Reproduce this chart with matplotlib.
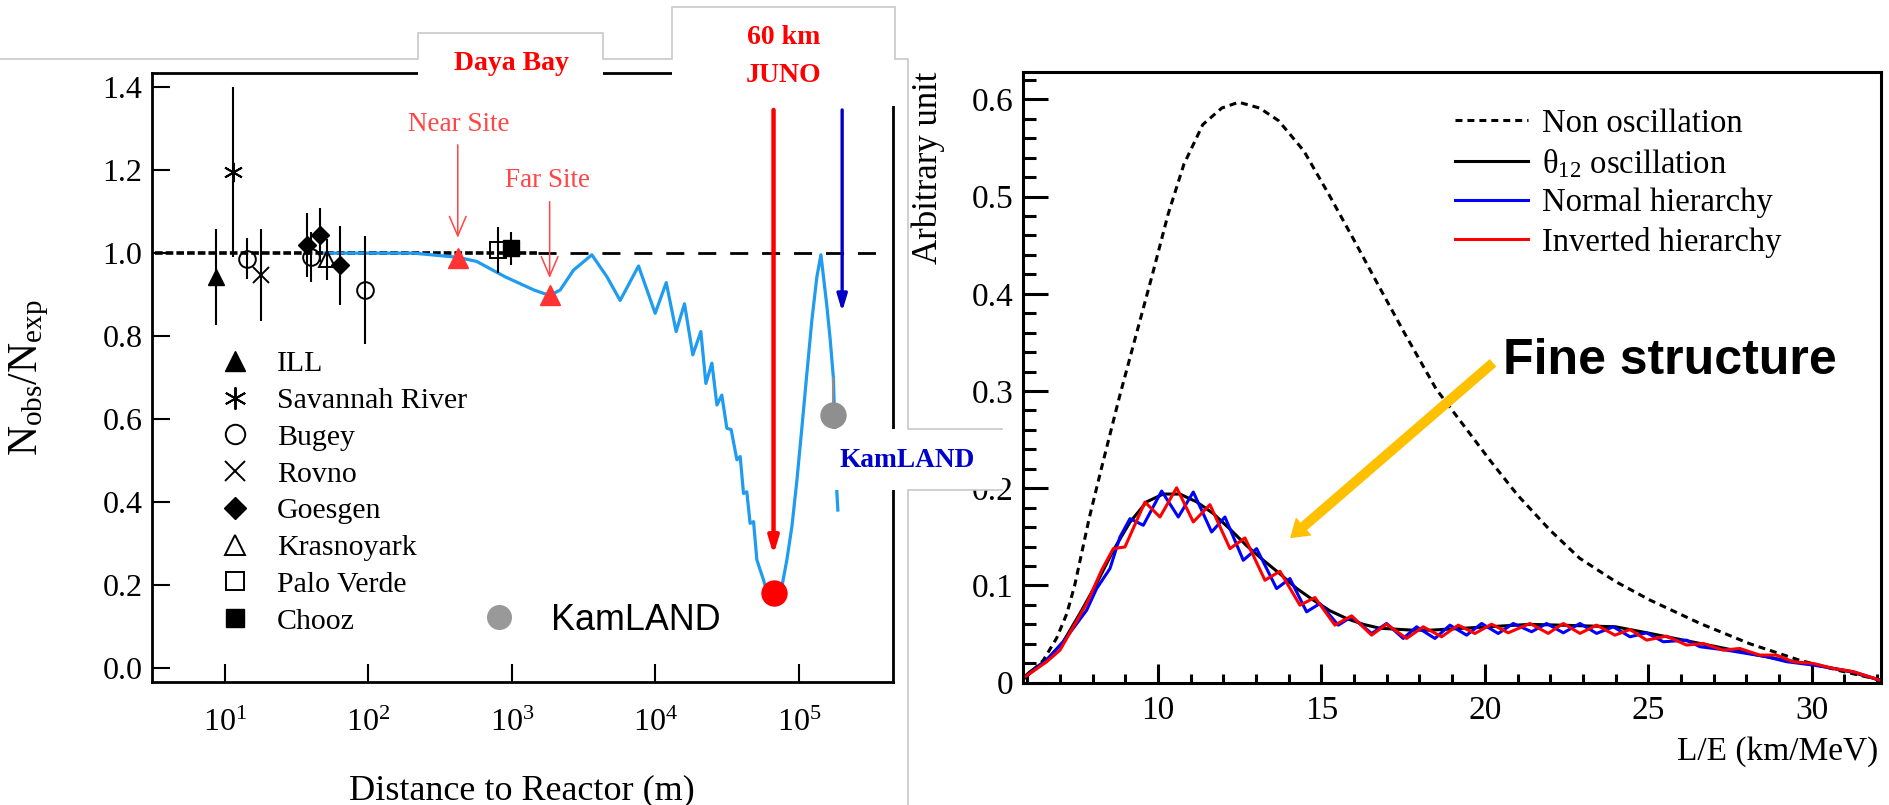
import numpy as np
import matplotlib
matplotlib.use('Agg')
import matplotlib.pyplot as plt
from matplotlib.lines import Line2D
from matplotlib.patches import Rectangle
from matplotlib.ticker import NullLocator, MultipleLocator, FixedLocator, FixedFormatter

plt.rcParams['font.family'] = ['Liberation Serif', 'DejaVu Serif']
plt.rcParams['mathtext.fontset'] = 'custom'
plt.rcParams['mathtext.rm'] = 'Liberation Serif'
plt.rcParams['mathtext.it'] = 'Liberation Serif:italic'
plt.rcParams['mathtext.bf'] = 'Liberation Serif:bold'
plt.rcParams['lines.scale_dashes'] = False

# ---------------- Left panel data ----------------
exp_labels = ['ILL', 'Savannah River', 'Bugey', 'Rovno', 'Goesgen',
              'Krasnoyark', 'Palo Verde', 'Chooz']
ill_dist = [8.7];            ill_ratio = [0.943];            ill_err = [0.115]
srp_dist = [11.4];           srp_ratio = [1.196];            srp_err = [0.205]
bugey_dist = [14.3, 40.0, 95.0]; bugey_ratio = [0.987, 0.99, 0.911]; bugey_err = [0.05, 0.06, 0.13]
rovno_dist = [18.0];         rovno_ratio = [0.947];          rovno_err = [0.11]
goesgen_dist = [37.6, 46.0, 64.0]; goesgen_ratio = [1.02, 1.044, 0.971]; goesgen_err = [0.077, 0.065, 0.095]
krasno_dist = [52.0];        krasno_ratio = [0.985];         krasno_err = [0.05]
palo_dist = [806.0];         palo_ratio = [1.008];           palo_err = [0.055]
chooz_dist = [988.0];        chooz_ratio = [1.012];          chooz_err = [0.04]
kamland_dist = [1.73e5];     kamland_ratio = [0.611];        kamland_err = [0.09]
dayabay_dist = [420.0, 1833.0]; dayabay_ratio = [0.988, 0.898]
juno_dist = [6.64e4];        juno_ratio = [0.181]

curve_log10_dist = [1.695, 2.315, 2.623, 2.755, 2.953, 3.155, 3.263, 3.336, 3.429, 3.557,
                    3.662, 3.754, 3.882, 3.998, 4.075, 4.144, 4.202, 4.260, 4.316, 4.351,
                    4.393, 4.428, 4.462, 4.497, 4.527, 4.567, 4.590, 4.613, 4.636, 4.659,
                    4.683, 4.706, 4.752, 4.799, 4.834, 4.880, 4.915, 4.950, 4.985, 5.020,
                    5.054, 5.089, 5.124, 5.152, 5.170, 5.194, 5.217, 5.239, 5.263, 5.270]
curve_ratio = [1.0, 1.0, 0.99, 0.98, 0.943, 0.911, 0.898, 0.911, 0.959, 0.996,
               0.943, 0.886, 0.969, 0.855, 0.929, 0.811, 0.878, 0.755, 0.811, 0.686,
               0.735, 0.634, 0.658, 0.578, 0.575, 0.502, 0.510, 0.421, 0.425, 0.349,
               0.353, 0.261, 0.213, 0.157, 0.153, 0.196, 0.261, 0.341, 0.453, 0.581,
               0.709, 0.838, 0.943, 0.996, 0.943, 0.871, 0.791, 0.699, 0.425, 0.381]

left_yticks = [0.0, 0.2, 0.4, 0.6, 0.8, 1.0, 1.2, 1.4]
left_ytick_labels = ['0.0', '0.2', '0.4', '0.6', '0.8', '1.0', '1.2', '1.4']
left_xticks = [1e1, 1e2, 1e3, 1e4, 1e5]
left_xtick_labels = [r'$10^{1}$', r'$10^{2}$', r'$10^{3}$', r'$10^{4}$', r'$10^{5}$']

# ---------------- Right panel data ----------------
nonosc_le = [5.90, 6.49, 6.90, 7.21, 7.45, 7.90, 8.28, 8.82, 9.34, 9.83, 10.31, 10.79,
             11.37, 11.95, 12.47, 13.11, 13.69, 14.46, 15.23, 16.00, 16.77, 17.55, 18.51,
             19.50, 20.15, 21.00, 21.99, 22.90, 24.00, 25.05, 26.58, 28.11, 29.64, 30.90, 32.08]
nonosc_val = [0.004, 0.023, 0.046, 0.071, 0.100, 0.170, 0.222, 0.294, 0.359, 0.420, 0.482, 0.533,
              0.574, 0.591, 0.597, 0.591, 0.578, 0.547, 0.502, 0.455, 0.407, 0.359, 0.302,
              0.258, 0.229, 0.193, 0.157, 0.128, 0.104, 0.085, 0.061, 0.040, 0.023, 0.012, 0.003]

th12_le = [5.88, 6.083, 6.59, 7.10, 7.61, 8.12, 8.63, 9.14, 9.65, 10.16, 10.67, 11.18, 11.69,
           12.20, 12.71, 13.22, 13.73, 14.24, 14.75, 15.26, 15.77, 16.28, 16.79, 17.30,
           17.81, 18.32, 19.34, 20.36, 21.38, 22.50, 24.00, 25.05, 26.07, 27.09, 28.11,
           29.13, 30.15, 31.17, 32.08]
th12_val = [0.005, 0.0113, 0.0233, 0.0421, 0.0712, 0.102, 0.136, 0.165, 0.186, 0.194, 0.194,
            0.186, 0.174, 0.158, 0.141, 0.126, 0.112, 0.097, 0.085, 0.074, 0.066, 0.060,
            0.056, 0.055, 0.054, 0.054, 0.056, 0.058, 0.060, 0.059, 0.0575, 0.0507, 0.0438,
            0.037, 0.030, 0.0233, 0.0181, 0.0113, 0.0027]

nh_le = [5.88, 6.083, 6.593, 7.103, 7.817, 8.122, 8.530, 8.836, 9.142, 9.550, 10.111, 10.621,
         11.080, 11.640, 12.048, 12.609, 13.017, 13.629, 14.036, 14.546, 14.954, 15.515,
         15.923, 16.535, 16.994, 17.503, 17.911, 18.472, 18.931, 19.441, 19.900, 20.409,
         20.868, 21.43, 21.89, 22.40, 22.91, 23.42, 23.93, 24.44, 24.95, 25.46, 26.17,
         26.58, 27.39, 28.01, 28.62, 29.23, 30.05, 30.66, 31.27, 32.08]
nh_val = [0.005, 0.0096, 0.0233, 0.0421, 0.0746, 0.0968, 0.1174, 0.1499, 0.1687, 0.1619,
          0.1971, 0.1704, 0.1961, 0.1550, 0.1704, 0.1259, 0.1379, 0.0968, 0.1071, 0.0729,
          0.0814, 0.0592, 0.0678, 0.0506, 0.0609, 0.0455, 0.0575, 0.0455, 0.0592, 0.0489,
          0.0609, 0.0506, 0.0609, 0.0524, 0.0609, 0.0513, 0.0609, 0.0507, 0.0575, 0.0472,
          0.0513, 0.0421, 0.0438, 0.0370, 0.0335, 0.0301, 0.0267, 0.0216, 0.0181, 0.0147,
          0.0113, 0.0027]

ih_le = [5.88, 6.083, 6.593, 7.001, 7.817, 8.275, 8.632, 8.989, 9.601, 10.060, 10.570, 11.080,
         11.589, 12.201, 12.660, 13.272, 13.730, 14.342, 14.801, 15.413, 15.923, 16.535,
         16.994, 17.605, 18.115, 18.676, 19.186, 19.696, 20.205, 20.715, 21.378, 21.94,
         22.40, 22.91, 23.42, 23.98, 24.44, 24.95, 25.56, 26.17, 26.68, 27.29, 27.80,
         28.41, 28.92, 29.43, 30.05, 30.66, 31.27, 32.08]
ih_val = [0.005, 0.0096, 0.0215, 0.0335, 0.0814, 0.1157, 0.1379, 0.1396, 0.1858, 0.1704,
          0.2005, 0.1653, 0.1831, 0.1379, 0.1489, 0.1054, 0.1146, 0.0797, 0.0876, 0.0592,
          0.0688, 0.0489, 0.0602, 0.0455, 0.0575, 0.0472, 0.0592, 0.0506, 0.0602, 0.0513,
          0.0609, 0.0507, 0.0609, 0.0507, 0.0592, 0.0489, 0.0547, 0.0438, 0.0479, 0.0387,
          0.0404, 0.0335, 0.0352, 0.0284, 0.0284, 0.0216, 0.0198, 0.0147, 0.0113, 0.0027]

right_legend_labels = ['Non oscillation', r'$\mathrm{\theta_{12}}$ oscillation',
                       'Normal hierarchy', 'Inverted hierarchy']
right_yticks = [0.0, 0.1, 0.2, 0.3, 0.4, 0.5, 0.6]
right_ytick_labels = ['0', '0.1', '0.2', '0.3', '0.4', '0.5', '0.6']
right_xticks = [10, 15, 20, 25, 30]
right_xtick_labels = ['10', '15', '20', '25', '30']

# ---------------- Figure ----------------
W, H = 1889, 805
fig = plt.figure(figsize=(W / 100, H / 100), dpi=100)
fig.patch.set_facecolor('white')


def fig_rect(x0, y0, x1, y1):
    return [x0 / W, 1 - y1 / H, (x1 - x0) / W, (y1 - y0) / H]


axL = fig.add_axes(fig_rect(152, 72.6, 892.7, 682))
axR = fig.add_axes(fig_rect(1022.7, 71.7, 1881, 682.7))

# ----- left panel -----
axL.set_xscale('log')
axL.set_xlim(10 ** 0.494, 10 ** 5.652)
axL.set_ylim(-0.0333, 1.435)
axL.xaxis.set_major_locator(FixedLocator(left_xticks))
axL.xaxis.set_major_formatter(FixedFormatter(left_xtick_labels))
axL.xaxis.set_minor_locator(NullLocator())
axL.set_yticks(left_yticks)
axL.set_yticklabels(left_ytick_labels)
axL.tick_params(direction='in', length=13, width=1.5, labelsize=23)
axL.tick_params(axis='x', pad=19)
axL.tick_params(axis='y', pad=7)
for s in axL.spines.values():
    s.set_linewidth(2.0)

# expectation line
axL.axhline(1.0, xmin=0.004, xmax=0.5207, color='black', lw=2.6, dashes=(5.5, 2.2), zorder=1)
axL.axhline(1.0, xmin=0.5207, xmax=0.9795, color='black', lw=2.0, dashes=(13, 10), zorder=1)

# oscillation curve
curve_blue = '#1f9bef'
axL.plot(10 ** np.array(curve_log10_dist), curve_ratio, color=curve_blue, lw=2.3, zorder=2)

eb = dict(color='black', capsize=0, elinewidth=1.5, ls='none', zorder=4)
axL.errorbar(ill_dist, ill_ratio, yerr=ill_err, marker='^', ms=12, **eb)
axL.errorbar(srp_dist, srp_ratio, yerr=srp_err, marker=(6, 2, 0), ms=14, mew=1.4, **eb)
axL.errorbar(bugey_dist, bugey_ratio, yerr=bugey_err, marker='o', ms=12, mfc='none', mew=1.4, **eb)
axL.errorbar(rovno_dist, rovno_ratio, yerr=rovno_err, marker='x', ms=12, mew=1.4, **eb)
axL.errorbar(goesgen_dist, goesgen_ratio, yerr=goesgen_err, marker='D', ms=9.5, **eb)
axL.errorbar(krasno_dist, krasno_ratio, yerr=krasno_err, marker='^', ms=11, mfc='none', mew=1.4, **eb)
axL.errorbar(palo_dist, palo_ratio, yerr=palo_err, marker='s', ms=11, mfc='none', mew=1.4, **eb)
axL.errorbar(chooz_dist, chooz_ratio, yerr=chooz_err, marker='s', ms=11, **eb)
axL.errorbar(kamland_dist, kamland_ratio, yerr=kamland_err, marker='o', ms=18,
             color='#8f8f8f', capsize=0, elinewidth=1.5, ls='none', zorder=5)
axL.plot(dayabay_dist, dayabay_ratio, ls='none', marker='^', ms=14, color='#ff3333', zorder=6)
axL.plot(juno_dist, juno_ratio, ls='none', marker='o', ms=18, color='#ff0000', zorder=6)

# legends
h1 = [Line2D([], [], ls='none', marker='^', ms=14, color='k'),
      Line2D([], [], ls='none', marker=(6, 2, 0), ms=16, mew=1.4, color='k'),
      Line2D([], [], ls='none', marker='o', ms=14, mfc='none', mew=1.4, color='k'),
      Line2D([], [], ls='none', marker='x', ms=14, mew=1.4, color='k'),
      Line2D([], [], ls='none', marker='D', ms=11, color='k'),
      Line2D([], [], ls='none', marker='^', ms=14, mfc='none', mew=1.4, color='k'),
      Line2D([], [], ls='none', marker='s', ms=13, mfc='none', mew=1.4, color='k'),
      Line2D([], [], ls='none', marker='s', ms=13, color='k')]
leg1 = axL.legend(h1, exp_labels, loc='upper left', bbox_to_anchor=(0.0918, 0.544),
                  borderpad=0, borderaxespad=0, handlelength=1.0, handletextpad=0.9,
                  labelspacing=0.33, frameon=False, prop={'family': 'Liberation Serif', 'size': 21.5})
axL.add_artist(leg1)
h2 = [Line2D([], [], ls='none', marker='o', ms=17, color='#999999')]
axL.legend(h2, ['KamLAND'], loc='upper left', bbox_to_anchor=(0.444, 0.130),
           borderpad=0, borderaxespad=0, handlelength=1.0, handletextpad=0.95,
           frameon=False, prop={'family': 'Liberation Sans', 'size': 25.8})

# arrows and site labels
site_red = '#ff4545'
axL.annotate('', xy=(dayabay_dist[0], 1.037), xytext=(dayabay_dist[0], 1.261),
             arrowprops=dict(arrowstyle='->, head_length=0.7, head_width=0.3', color=site_red,
                             lw=1.1, shrinkA=0, shrinkB=0, mutation_scale=20), zorder=7)
axL.annotate('', xy=(dayabay_dist[1], 0.940), xytext=(dayabay_dist[1], 1.124),
             arrowprops=dict(arrowstyle='->, head_length=0.7, head_width=0.3', color=site_red,
                             lw=1.1, shrinkA=0, shrinkB=0, mutation_scale=20), zorder=7)
axL.text(10 ** 2.633, 1.309, 'Near Site', color=site_red, fontsize=19.5, ha='center', va='center')
axL.text(10 ** 3.25, 1.176, 'Far Site', color=site_red, fontsize=19.5, ha='center', va='center')
axL.annotate('', xy=(juno_dist[0], 0.273), xytext=(juno_dist[0], 1.345),
             arrowprops=dict(arrowstyle='-|>, head_length=0.5, head_width=0.15', color='#ff0000',
                             lw=3.2, shrinkA=0, shrinkB=0, mutation_scale=20), zorder=7)
axL.annotate('', xy=(10 ** 5.300, 0.859), xytext=(10 ** 5.300, 1.345),
             arrowprops=dict(arrowstyle='-|>, head_length=0.5, head_width=0.15', color='#0000c8',
                             lw=2.4, shrinkA=0, shrinkB=0, mutation_scale=20), zorder=7)

axL.set_xlabel('Distance to Reactor (m)', fontsize=26)
axL.xaxis.set_label_coords(0.5, -0.151)
axL.xaxis.label.set_va('top')
ylabL = axL.set_ylabel(r'$\mathrm{N_{obs}/N_{exp}}$', fontsize=30)
ylabL.set_rotation_mode('default')
ylabL.set_va('center')
axL.yaxis.set_label_coords(-0.166, 0.5)

# ----- right panel -----
axR.set_xlim(5.86, 32.12)
axR.set_ylim(0, 0.6284)
axR.plot(nonosc_le, nonosc_val, color='black', lw=2.2, dashes=(5, 3.6), label=right_legend_labels[0])
axR.plot(th12_le, th12_val, color='black', lw=2.2, label=right_legend_labels[1])
axR.plot(nh_le, nh_val, color='#0000ff', lw=2.2, label=right_legend_labels[2])
axR.plot(ih_le, ih_val, color='#ff0000', lw=2.2, label=right_legend_labels[3])

axR.set_xticks(right_xticks)
axR.set_xticklabels(right_xtick_labels)
axR.xaxis.set_minor_locator(MultipleLocator(1))
axR.set_yticks(right_yticks)
axR.set_yticklabels(right_ytick_labels)
axR.yaxis.set_minor_locator(MultipleLocator(0.02))
axR.tick_params(which='both', direction='in', width=2.2, labelsize=24, top=False, right=False)
axR.tick_params(axis='y', which='major', length=18, pad=6.5)
axR.tick_params(axis='y', which='minor', length=9.4)
axR.tick_params(axis='x', which='major', length=13.7, pad=9)
axR.tick_params(axis='x', which='minor', length=6.5)
for s in axR.spines.values():
    s.set_linewidth(2.2)

axR.legend(loc='upper left', bbox_to_anchor=(0.5037, 0.940), borderpad=0, borderaxespad=0,
           handlelength=2.24, handletextpad=0.43, labelspacing=0.25, frameon=False,
           prop={'family': 'Liberation Serif', 'size': 23.5})

xlabR = axR.set_xlabel('L/E (km/MeV)', fontsize=24)
xlabR.set_ha('right')
xlabR.set_va('top')
axR.xaxis.set_label_coords(0.9965, -0.087)
ylabR = axR.set_ylabel('Arbitrary unit', fontsize=25)
ylabR.set_rotation_mode('default')
ylabR.set_ha('center')
ylabR.set_va('top')
axR.yaxis.set_label_coords(-0.1099, 1.0)

axR.annotate('', xy=(14.04, 0.1486), xytext=(20.25, 0.329),
             arrowprops=dict(arrowstyle='simple, head_length=0.65, head_width=0.86, tail_width=0.36',
                             fc='#ffc000', ec='none', shrinkA=0, shrinkB=0, mutation_scale=20),
             zorder=8)
axR.text(20.54, 0.331, 'Fine structure', fontsize=36, fontweight='bold',
         family='Liberation Sans', ha='left', va='center')

# ----- overlay: slide text boxes -----
ov = fig.add_axes([0, 0, 1, 1], zorder=20)
ov.set_xlim(0, W)
ov.set_ylim(H, 0)
ov.axis('off')
ov.patch.set_alpha(0)
ov.add_patch(Rectangle((418, 33.3), 185, 55, fc='white', ec='none'))
ov.add_patch(Rectangle((672, 7.3), 223, 99, fc='white', ec='none'))
ov.add_patch(Rectangle((828, 429), 174, 61, fc='white', ec='none'))
gray = '#c4c4c4'
ov.plot([0, 418, 418, 603, 603, 672, 672, 895, 895, 907.6, 907.6, 1002],
        [59.3, 59.3, 33.3, 33.3, 59.3, 59.3, 7.3, 7.3, 59.3, 59.3, 429, 429],
        color=gray, lw=1.1, solid_joinstyle='miter')
ov.plot([1002, 907.6, 907.6], [490, 490, 805], color=gray, lw=1.1, solid_joinstyle='miter')
ov.text(511, 63, 'Daya Bay', color='#ff0000', fontsize=20, fontweight='bold', ha='center', va='center')
ov.text(784, 38, '60 km', color='#ff0000', fontsize=20, fontweight='bold', ha='center', va='center')
ov.text(784, 75.5, 'JUNO', color='#ff0000', fontsize=20, fontweight='bold', ha='center', va='center')
ov.text(907.5, 460, 'KamLAND', color='#0000cc', fontsize=19.7, fontweight='bold', ha='center', va='center')

fig.savefig('out.png', dpi=100, facecolor='white')
